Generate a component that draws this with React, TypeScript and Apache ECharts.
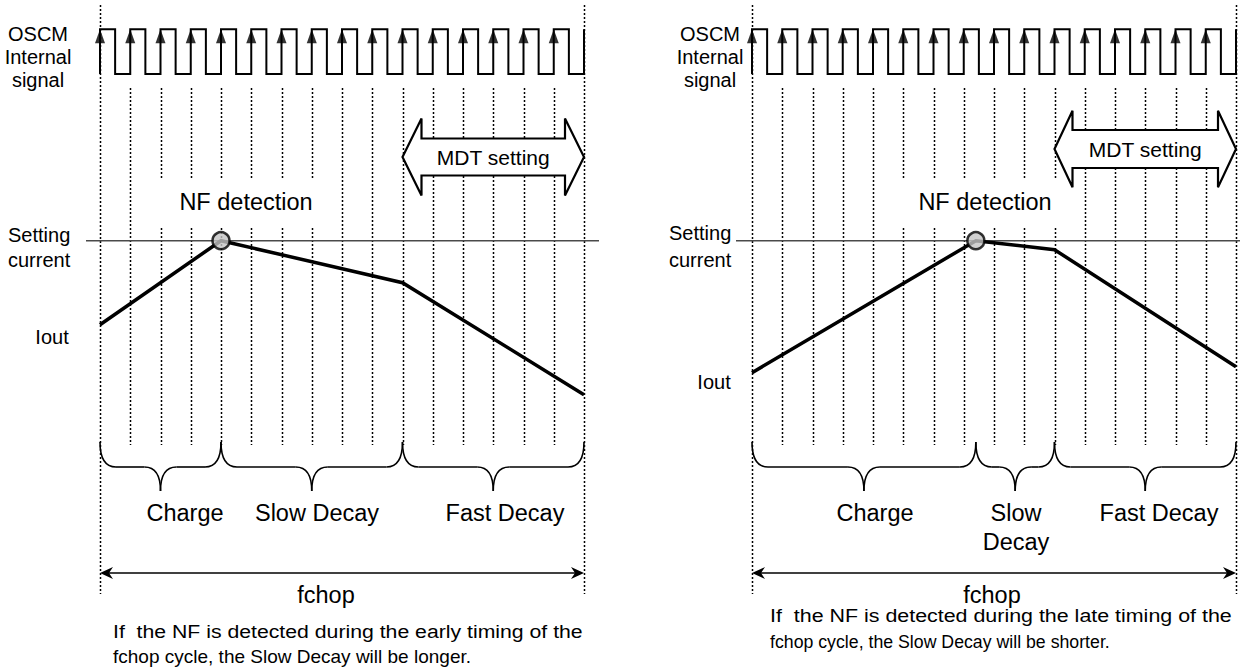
import React, { useEffect, useRef } from "react";
import * as echarts from "echarts";

const FONT = '"Liberation Sans", Arial, Helvetica, sans-serif';

// ---------------- data ----------------
// one fchop period = 16 cycles of the OSCM internal clock
const CYCLES = 16;
// OSCM internal signal level at each half cycle (t = 0, 0.5, 1, ... 16)
const OSCM_LEVELS = [
  1, 0, 1, 0, 1, 0, 1, 0, 1, 0, 1, 0, 1, 0, 1, 0,
  1, 0, 1, 0, 1, 0, 1, 0, 1, 0, 1, 0, 1, 0, 1, 0, 1,
];
const SETTING_CURRENT = 1.0;

// left: NF detected early in the fchop cycle
const EARLY_T = [0, 4, 10, 16];
const EARLY_IOUT = [0.58, 1.0, 0.79, 0.23];
const EARLY_NF_T = 4;
const EARLY_PHASE_BOUNDS = [0, 4, 10, 16];
const EARLY_PHASE_LABELS = ["Charge", "Slow Decay", "Fast Decay"];
const EARLY_CAPTION = [
  "If  the NF is detected during the early timing of the",
  "fchop cycle, the Slow Decay will be longer.",
];

// right: NF detected late in the fchop cycle
const LATE_T = [0, 7.4, 10, 16];
const LATE_IOUT = [0.34, 1.0, 0.955, 0.37];
const LATE_NF_T = 7.4;
const LATE_PHASE_BOUNDS = [0, 7.4, 10, 16];
const LATE_PHASE_LABELS = ["Charge", "Slow\nDecay", "Fast Decay"];
const LATE_CAPTION = [
  "If  the NF is detected during the late timing of the",
  "fchop cycle, the Slow Decay will be shorter.",
];

const MDT_RANGE = [10, 16];
const SIGNAL_LABEL = ["OSCM", "Internal", "signal"];
const CURRENT_LABEL = ["Setting", "current"];
const IOUT_LABEL = "Iout";
const NF_LABEL = "NF detection";
const MDT_LABEL = "MDT setting";
const FCHOP_LABEL = "fchop";

// ---------------- layout (pixels) ----------------
const PANEL_W = 484;
const CLOCK_TOP = 29.3;
const CLOCK_H = 44.7;
const CUR_TOP = 40.7;
const CUR_H = 600;
const DOT_TOP = 88;
const DOT_BOTTOM = 445;
const FRAME_TOP = 5;
const FRAME_BOTTOM = 594;
const BRACE_TOP = 442;
const BRACE_MID = 467;
const BRACE_TIP = 491;
const BRACE_R = 16;
const PHASE_Y = 513;
const PHASE_LH = 29;
const FCHOP_ARROW_Y = 573;
const FCHOP_Y = 595;

const LAYOUT = [
  {
    left: 100, sigX: 38, sigY: [34, 57, 80], setX: 8, setY: [235, 260],
    ioutX: 52, ioutY: 337, setLine: [86, 599], nfX: 246, nfY: 202,
    nfBox: [145, 178, 195, 48], mdtY: 157, mdtHead: 19, mdtHalf: 38.5, mdtShaft: 18.5,
    phaseX: [185, 317, 505], fchopX: 326, capX: 113, capY: [631, 656], capSize: 19, capW: [470, 0],
  },
  {
    left: 752, sigX: 710, sigY: [34, 57, 80], setX: 669, setY: [233, 260],
    ioutX: 714, ioutY: 382, setLine: [736, 1240], nfX: 985, nfY: 202,
    nfBox: [886, 178, 178, 48], mdtY: 149, mdtHead: 18, mdtHalf: 38.3, mdtShaft: 19,
    phaseX: [875, 1016, 1159], fchopX: 992, capX: 770, capY: [616, 642], capSize: 18.5, capW: [462, 340],
  },
];

const PANELS = [
  { t: EARLY_T, iout: EARLY_IOUT, nf: EARLY_NF_T, bounds: EARLY_PHASE_BOUNDS, labels: EARLY_PHASE_LABELS, caption: EARLY_CAPTION },
  { t: LATE_T, iout: LATE_IOUT, nf: LATE_NF_T, bounds: LATE_PHASE_BOUNDS, labels: LATE_PHASE_LABELS, caption: LATE_CAPTION },
];

function txt(text: string, x: number, y: number, size: number, align = "center", extra: any = {}) {
  return {
    type: "text", x, y, z: 20, silent: true, ...extra,
    style: { text, fill: "#000", fontSize: size, fontFamily: FONT, align, verticalAlign: "middle" },
  };
}

export default function App() {
  const ref = useRef<HTMLDivElement>(null);

  useEffect(() => {
    const chart = echarts.init(ref.current!, null, { renderer: "svg", width: 1240, height: 668 });

    const grids: any[] = [];
    const xAxes: any[] = [];
    const yAxes: any[] = [];
    const series: any[] = [];

    const clockPts: number[][] = [];
    let prev = 0;
    OSCM_LEVELS.forEach((v, k) => {
      clockPts.push([k * 0.5, prev]);
      clockPts.push([k * 0.5, v]);
      prev = v;
    });
    const risingEdges = OSCM_LEVELS.map((v, k) => [k * 0.5, v]).filter(([t, v]) => v === 1 && t < CYCLES);

    PANELS.forEach((p, i) => {
      const L = LAYOUT[i];
      const gc = i * 2;
      const gi = i * 2 + 1;
      grids.push({ left: L.left, width: PANEL_W, top: CLOCK_TOP, height: CLOCK_H });
      grids.push({ left: L.left, width: PANEL_W, top: CUR_TOP, height: CUR_H });
      xAxes.push({ type: "value", gridIndex: gc, min: 0, max: CYCLES, show: false });
      xAxes.push({ type: "value", gridIndex: gi, min: 0, max: CYCLES, show: false });
      yAxes.push({ type: "value", gridIndex: gc, min: 0, max: 1, show: false });
      yAxes.push({ type: "value", gridIndex: gi, min: -1, max: 2, show: false });

      series.push({
        type: "line", xAxisIndex: gc, yAxisIndex: gc, data: clockPts, showSymbol: false,
        clip: false, silent: true, z: 5, lineStyle: { color: "#000", width: 2, join: "miter" },
      });
      series.push({
        type: "scatter", xAxisIndex: gc, yAxisIndex: gc, data: risingEdges, symbol: "triangle",
        symbolSize: [10, 14], symbolOffset: [0, 7], clip: false, silent: true, z: 6,
        itemStyle: { color: "#000" },
      });
      series.push({
        type: "line", xAxisIndex: gi, yAxisIndex: gi, data: p.t.map((t, k) => [t, p.iout[k]]),
        showSymbol: false, clip: false, silent: true, z: 5,
        lineStyle: { color: "#000", width: 3.5, join: "miter" },
      });
      series.push({
        type: "scatter", xAxisIndex: gi, yAxisIndex: gi, data: [[p.nf, SETTING_CURRENT]],
        symbol: "circle", symbolSize: 17, clip: false, silent: true, z: 7,
        itemStyle: { color: "#c4c4c4", borderColor: "#000", borderWidth: 2.5 },
      });
    });

    chart.setOption({ animation: false, grid: grids, xAxis: xAxes, yAxis: yAxes, series });

    const ctx = document.createElement("canvas").getContext("2d")!;

    const els: any[] = [];
    const ink = { stroke: "#000", fill: null as any };

    PANELS.forEach((p, i) => {
      const L = LAYOUT[i];
      const gi = i * 2 + 1;
      const X = (t: number) => chart.convertToPixel({ gridIndex: gi }, [t, 0])[0];
      const Y = (v: number) => chart.convertToPixel({ gridIndex: gi }, [0, v])[1];

      // dotted clock-edge lines
      for (let k = 0; k <= CYCLES; k++) {
        const edge = k === 0 || k === CYCLES;
        const xk = Math.round(X(k)) + 0.5;
        els.push({
          type: "line", z: 1, silent: true,
          shape: { x1: xk, y1: edge ? FRAME_TOP : DOT_TOP, x2: xk, y2: edge ? FRAME_BOTTOM : DOT_BOTTOM },
          style: { stroke: "#000", lineWidth: 1.5, lineDash: [2, 2] },
        });
      }
      // setting current reference line
      const ys = Y(SETTING_CURRENT);
      els.push({
        type: "line", z: 2, silent: true,
        shape: { x1: L.setLine[0], y1: ys, x2: L.setLine[1], y2: ys },
        style: { stroke: "#4a4a4a", lineWidth: 1.5 },
      });
      // white box behind NF detection
      els.push({
        type: "rect", z: 2, silent: true,
        shape: { x: L.nfBox[0], y: L.nfBox[1], width: L.nfBox[2], height: L.nfBox[3] },
        style: { fill: "#fff" },
      });
      // MDT double arrow
      const x0 = X(MDT_RANGE[0]);
      const x1 = X(MDT_RANGE[1]);
      const my = L.mdtY, h = L.mdtHead, H = L.mdtHalf, s = L.mdtShaft;
      els.push({
        type: "polygon", z: 3, silent: true,
        shape: {
          points: [
            [x0, my], [x0 + h, my - H], [x0 + h, my - s], [x1 - h, my - s], [x1 - h, my - H],
            [x1, my], [x1 - h, my + H], [x1 - h, my + s], [x0 + h, my + s], [x0 + h, my + H],
          ],
        },
        style: { fill: "#fff", stroke: "#000", lineWidth: 2.2, lineJoin: "miter" },
      });
      els.push(txt(MDT_LABEL, (x0 + x1) / 2, my, 21));

      // braces for phases
      for (let j = 0; j < p.bounds.length - 1; j++) {
        const xa = X(p.bounds[j]);
        const xb = X(p.bounds[j + 1]);
        const xm = (xa + xb) / 2;
        const r = BRACE_R;
        const st = { ...ink, lineWidth: 1.6 };
        els.push({ type: "bezierCurve", z: 4, silent: true, shape: { x1: xa, y1: BRACE_TOP, x2: xa + r, y2: BRACE_MID, cpx1: xa, cpy1: BRACE_MID }, style: st });
        els.push({ type: "line", z: 4, silent: true, shape: { x1: xa + r, y1: BRACE_MID, x2: xm - r, y2: BRACE_MID }, style: st });
        els.push({ type: "bezierCurve", z: 4, silent: true, shape: { x1: xm - r, y1: BRACE_MID, x2: xm, y2: BRACE_TIP, cpx1: xm, cpy1: BRACE_MID }, style: st });
        els.push({ type: "bezierCurve", z: 4, silent: true, shape: { x1: xm, y1: BRACE_TIP, x2: xm + r, y2: BRACE_MID, cpx1: xm, cpy1: BRACE_MID }, style: st });
        els.push({ type: "line", z: 4, silent: true, shape: { x1: xm + r, y1: BRACE_MID, x2: xb - r, y2: BRACE_MID }, style: st });
        els.push({ type: "bezierCurve", z: 4, silent: true, shape: { x1: xb - r, y1: BRACE_MID, x2: xb, y2: BRACE_TOP, cpx1: xb, cpy1: BRACE_MID }, style: st });
        p.labels[j].split("\n").forEach((line, li) => {
          els.push(txt(line, L.phaseX[j], PHASE_Y + li * PHASE_LH, 23.5));
        });
      }

      // fchop double arrow
      const fa = X(0);
      const fb = X(CYCLES);
      const fy = FCHOP_ARROW_Y;
      els.push({ type: "line", z: 4, silent: true, shape: { x1: fa + 3, y1: fy, x2: fb - 3, y2: fy }, style: { stroke: "#000", lineWidth: 1.5 } });
      els.push({ type: "polygon", z: 4, silent: true, shape: { points: [[fa, fy], [fa + 13, fy - 6], [fa + 9, fy], [fa + 13, fy + 6]] }, style: { fill: "#000" } });
      els.push({ type: "polygon", z: 4, silent: true, shape: { points: [[fb, fy], [fb - 13, fy - 6], [fb - 9, fy], [fb - 13, fy + 6]] }, style: { fill: "#000" } });
      els.push(txt(FCHOP_LABEL, L.fchopX, FCHOP_Y, 23.5));

      // side labels
      SIGNAL_LABEL.forEach((t, k) => els.push(txt(t, L.sigX, L.sigY[k], 20)));
      CURRENT_LABEL.forEach((t, k) => els.push(txt(t, L.setX, L.setY[k], 20, "left")));
      els.push(txt(IOUT_LABEL, L.ioutX, L.ioutY, 20));
      els.push(txt(NF_LABEL, L.nfX, L.nfY, 23.5));

      // caption (lines fitted to the text box widths)
      ctx.font = `${L.capSize}px ${FONT}`;
      p.caption.forEach((line, k) => {
        const extra: any = {};
        if (L.capW[k] > 0) {
          const w = ctx.measureText(line).width || 1;
          extra.scaleX = L.capW[k] / w;
        }
        els.push(txt(line, L.capX, L.capY[k], L.capSize, "left", extra));
      });
    });

    chart.setOption({ graphic: { elements: els } });

    return () => chart.dispose();
  }, []);

  return (
    <div
      ref={ref}
      style={{ position: "fixed", left: 0, top: 0, width: 1240, height: 668, background: "#fff" }}
    />
  );
}
